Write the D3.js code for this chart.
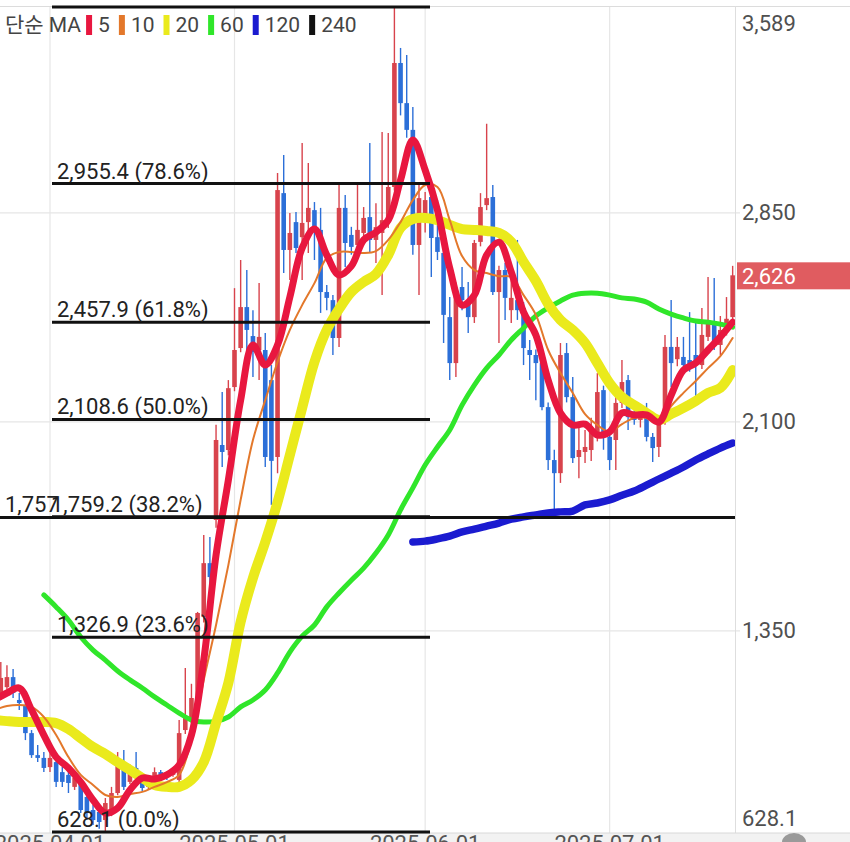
<!DOCTYPE html>
<html><head><meta charset="utf-8">
<script src="https://cdn.jsdelivr.net/npm/d3@7"></script>
<style>
html,body{margin:0;padding:0;background:#fff;}
svg{display:block;font-family:Roboto,"Noto Sans CJK KR",sans-serif;}
</style></head><body>
<svg id="chart" width="850" height="842"></svg>
<script>
// ---------- DATA ----------
const startDate = "2025-03-24";            // first candle (daily candles)
const dateTicks = ["2025.04.01","2025.05.01","2025.06.01","2025.07.01"];

const open = [1120,1148,1184,1102,1084,983,904,894,861,879, 843,833,790,804,754,707,700,671,696,768, 879,808,858,815,790,815,843,836,833,815, 994,1037,1102,1400,1593,1748,2017,1999,2225,2365, 2512,2408,2358,2358,2250,1974,2921,2717,2817,2763, 2817,2860,2789,2566,2537,2401,2868,2771,2735,2778, 2835,2753,2778,2824,2943,3388,3244,3148,2735,2842, 2907,2763,2706,2476,2311,2584,2527,2476,2746,2878, 2907,2566,2645,2501,2537,2509,2358,2340,2311,2153, 1963,1916,2347,2189,1974,1992,1999,2046,2214,2046, 2035,2168,2250,2121,2107,2117,2046,2010,2107,2369, 2325,2333,2322,2340,2304,2405,2458,2376,2430,2476];
const high = [1238,1227,1213,1127,1109,994,940,915,911,897, 861,869,840,822,768,725,715,750,790,915, 922,870,915,833,830,860,851,843,861,1030, 1217,1160,1418,1694,1687,2090,2207,2250,2580,2681, 2645,2501,2598,2419,2304,2993,3058,2850,2853,3101, 3029,2889,2868,2591,2555,2961,2914,2800,2961,2871, 3101,2885,3140,3137,3589,3442,3417,3230,2950,2925, 2925,2896,2720,2548,2600,2656,2602,2753,2921,3170, 2950,2660,2670,2645,2753,2530,2394,2360,2330,2170, 2000,2383,2383,2261,2082,2071,2115,2275,2230,2060, 2230,2322,2268,2140,2150,2168,2060,2120,2412,2537, 2405,2405,2494,2458,2509,2620,2616,2480,2548,2660];
const low = [1102,1130,1109,1066,958,894,879,843,843,790, 790,768,779,696,671,653,640,628.1,685,760, 779,800,800,775,780,805,822,815,826,800, 980,1020,1090,1380,1507,1720,1938,1980,2210,2350, 2347,2261,2250,1938,1802,1916,2634,2609,2706,2609, 2706,2681,2491,2501,2340,2369,2656,2700,2717,2753, 2706,2670,2555,2796,2930,3200,3120,2700,2555,2780, 2620,2681,2383,2250,2261,2501,2419,2455,2730,2860, 2555,2383,2466,2455,2466,2304,2250,2178,2142,1927, 1777,1881,2170,1952,1898,1952,1960,2030,2000,1927, 1927,2150,2071,2090,2080,2030,1956,1974,2090,2225, 2300,2280,2280,2160,2290,2390,2358,2340,2410,2460];
const close = [1181,1184,1127,1091,983,904,894,858,894,808, 808,804,822,707,696,671,664,732,768,879, 790,851,822,786,815,843,833,826,851,983, 1037,1109,1414,1593,1543,2035,1992,2221,2358,2512, 2430,2351,2405,1974,1960,2932,2717,2778,2724,2814, 2868,2789,2566,2545,2401,2868,2742,2728,2789,2832, 2753,2799,2824,2943,3388,3244,3148,2735,2903,2896, 2760,2710,2484,2311,2573,2537,2476,2742,2871,2903, 2566,2645,2545,2545,2501,2365,2340,2311,2153,1963, 1916,2340,2189,1970,1999,2010,2071,2207,2046,1963, 2168,2243,2117,2107,2132,2046,2006,2107,2369,2311, 2369,2304,2304,2304,2412,2458,2376,2430,2470,2626];

// moving averages, read every 2 days starting one day before the first candle
const maFirstDay = -1, maStepDays = 2;
const ma5 = [1102,1127,1145,1066,976,897,858,807,743,696,714,779,822,818,833,868,976,1245,1622,1891,2178,2376,2304,2376,2548,2724,2792,2699,2627,2659,2753,2781,2824,2968,3112,3004,2860,2652,2519,2555,2699,2745,2638,2494,2412,2250,2132,2089,2092,2053,2064,2132,2125,2125,2099,2196,2286,2311,2358,2405,2458];
const ma10 = [1066,1080,1084,1077,1041,976,897,833,797,761,754,764,772,790,807,833,958,1174,1371,1586,1820,2035,2178,2315,2430,2519,2598,2688,2710,2710,2706,2713,2753,2817,2896,2950,2943,2824,2695,2645,2634,2623,2620,2555,2484,2358,2275,2204,2128,2089,2064,2092,2114,2114,2096,2157,2204,2247,2293,2336,2401];
const ma20 = [1030,1026,1023,1023,1023,1019,998,965,933,908,879,851,822,797,790,790,815,879,1019,1163,1382,1540,1669,1812,1981,2150,2315,2430,2505,2566,2602,2631,2699,2796,2828,2832,2824,2807,2792,2789,2785,2778,2746,2674,2606,2523,2466,2430,2383,2311,2239,2189,2160,2132,2107,2128,2150,2175,2204,2222,2286];
const ma60 = [null,null,null,null,1479,1436,1389,1328,1281,1245,1206,1174,1145,1113,1084,1055,1030,1023,1026,1041,1077,1102,1138,1199,1274,1331,1371,1436,1486,1532,1575,1629,1694,1784,1863,1945,2010,2071,2160,2232,2293,2340,2394,2437,2480,2509,2534,2555,2562,2562,2555,2545,2541,2530,2505,2487,2473,2462,2458,2451,2440];
const ma120 = [null,null,null,null,null,null,null,null,null,null,null,null,null,null,null,null,null,null,null,null,null,null,null,null,null,null,null,null,null,null,null,null,null,null,1669,1672,1680,1690,1705,1715,1726,1737,1751,1759,1766,1773,1777,1780,1802,1809,1820,1837,1852,1873,1895,1916,1938,1963,1985,2006,2024];

const maPeriods = ["5","10","20","60","120","240"];
const maColors  = ["#e8173f","#e3782b","#eaea1c","#30e62a","#1b1bd0","#111111"];

// Fibonacci retracement
const fibPercents = [100, 78.6, 61.8, 50.0, 38.2, 23.6, 0.0];
const fibValues   = [3589, 2955.4, 2457.9, 2108.6, 1759.2, 1326.9, 628.1];
const userLineValue = 1757;
const userLineLabel = "1,757";

const axisValues = [3589, 2850, 2100, 1350, 628.1];
const axisLabels = ["3,589","2,850","2,100","1,350","628.1"];
const lastPrice = 2626, lastPriceLabel = "2,626";

// ---------- CHART ----------
const W = 850, H = 842, plotR = 735, yTop = 7, yBot = 832;
const svg = d3.select("#chart");
const parseDay = d3.utcParse("%Y-%m-%d");
const parseTick = d3.utcParse("%Y.%m.%d");
const d0 = parseDay(startDate);
const days = close.map((_, i) => d3.utcDay.offset(d0, i));
const maDays = ma5.map((_, k) => d3.utcDay.offset(d0, maFirstDay + k * maStepDays));

const x = d3.scaleUtc().domain([days[0], days[days.length - 1]]).range([0.8, 732.65]);
const y = d3.scaleLinear().domain([628.1, 3589]).range([yBot, yTop]);

svg.append("rect").attr("width", W).attr("height", H).attr("fill", "#fff");

svg.append("defs").append("clipPath").attr("id", "plotclip")
  .append("rect").attr("x", 0).attr("y", 0).attr("width", plotR).attr("height", yBot + 1);

// grid
const grid = svg.append("g");
grid.selectAll("line.hg").data(axisValues.slice(1, 4)).join("line")
  .attr("x1", 0).attr("x2", plotR + 5).attr("y1", d => y(d)).attr("y2", d => y(d))
  .attr("stroke", "#e6e6e6").attr("stroke-width", 1.2);
grid.selectAll("line.vg").data(dateTicks).join("line")
  .attr("x1", d => x(parseTick(d))).attr("x2", d => x(parseTick(d)))
  .attr("y1", yTop).attr("y2", H)
  .attr("stroke", "#e6e6e6").attr("stroke-width", 1.2);
svg.append("line").attr("x1", 0).attr("x2", W).attr("y1", 6.5).attr("y2", 6.5)
  .attr("stroke", "#dcdcdc").attr("stroke-width", 1);
svg.append("line").attr("x1", plotR + 0.5).attr("x2", plotR + 0.5).attr("y1", 6).attr("y2", yBot + 1)
  .attr("stroke", "#dedede").attr("stroke-width", 1);

// bottom date band
svg.append("rect").attr("x", 0).attr("y", yBot + 1).attr("width", W).attr("height", H - yBot)
  .attr("fill", "#f2f2f2");
svg.append("line").attr("x1", 0).attr("x2", W).attr("y1", yBot + 1).attr("y2", yBot + 1)
  .attr("stroke", "#d8d8d8");
svg.append("g").selectAll("text").data(dateTicks).join("text")
  .attr("x", d => x(parseTick(d))).attr("y", 851).attr("text-anchor", "middle")
  .attr("font-size", 22).attr("fill", "#555").text(d => d);
svg.append("path").attr("d", "M782,842 A12,9 0 0 1 806,842 Z").attr("fill", "#9a9a9a");

const plot = svg.append("g").attr("clip-path", "url(#plotclip)");

// candles
const up = "#d8434c", down = "#2c6fd8";
const cg = plot.append("g");
const idx = d3.range(close.length);
cg.selectAll("line").data(idx).join("line")
  .attr("x1", i => x(days[i])).attr("x2", i => x(days[i]))
  .attr("y1", i => y(high[i])).attr("y2", i => y(low[i]))
  .attr("stroke", i => close[i] >= open[i] ? up : down).attr("stroke-width", 1.4);
cg.selectAll("rect").data(idx).join("rect")
  .attr("x", i => x(days[i]) - 2.3).attr("width", 4.6)
  .attr("y", i => y(Math.max(open[i], close[i])))
  .attr("height", i => Math.max(1.5, Math.abs(y(open[i]) - y(close[i]))))
  .attr("fill", i => close[i] >= open[i] ? up : down);

// moving averages
const maLine = d3.line()
  .defined(d => d.v != null)
  .x(d => x(d.t)).y(d => y(d.v))
  .curve(d3.curveCatmullRom.alpha(0.5));
const maSeries = [
  {vals: ma120, color: maColors[4], w: 7.5},
  {vals: ma60,  color: maColors[3], w: 5},
  {vals: ma20,  color: maColors[2], w: 10},
  {vals: ma10,  color: maColors[1], w: 2},
  {vals: ma5,   color: maColors[0], w: 7}
];
maSeries.forEach(s => {
  plot.append("path")
    .datum(s.vals.map((v, k) => ({t: maDays[k], v})))
    .attr("d", maLine).attr("fill", "none")
    .attr("stroke", s.color).attr("stroke-width", s.w)
    .attr("stroke-linejoin", "round").attr("stroke-linecap", "round");
});

// Fibonacci lines & labels
const fg = svg.append("g");
fg.append("line").attr("x1", 0).attr("x2", plotR)
  .attr("y1", y(userLineValue)).attr("y2", y(userLineValue))
  .attr("stroke", "#111").attr("stroke-width", 3);
fg.selectAll("line.f").data(fibValues).join("line")
  .attr("x1", 52).attr("x2", 430).attr("y1", d => y(d)).attr("y2", d => y(d))
  .attr("stroke", "#111").attr("stroke-width", 3);
const fmt = d3.format(",.1f");
fg.append("text").attr("x", 5).attr("y", y(userLineValue) - 5)
  .attr("font-size", 22).attr("fill", "#222").text(userLineLabel);
fg.selectAll("text.f").data(fibValues.map((v, i) => ({v, p: fibPercents[i]})).filter(d => d.p < 100))
  .join("text")
  .attr("x", d => d.p === 38.2 ? 51 : 57)
  .attr("y", d => y(d.v) - 5)
  .attr("font-size", 22).attr("fill", "#222")
  .text(d => `${fmt(d.v)} (${d.p.toFixed(1)}%)`);

// right axis labels
const offs = [23.5, 7.5, 7.5, 7.5, -6.5];
svg.append("g").selectAll("text").data(axisValues).join("text")
  .attr("x", 742).attr("y", (d, i) => y(d) + offs[i])
  .attr("font-size", 22).attr("fill", "#505050").text((d, i) => axisLabels[i]);

// last price tag
svg.append("rect").attr("x", 737).attr("y", y(lastPrice) - 13).attr("width", W - 737).attr("height", 27)
  .attr("fill", "#e05c60");
svg.append("text").attr("x", 742).attr("y", y(lastPrice) + 8.5)
  .attr("font-size", 22).attr("fill", "#fff").text(lastPriceLabel);

// legend
const lg = svg.append("g");
let lx = 5;
const t0 = lg.append("text").attr("x", lx).attr("y", 32).attr("font-size", 21).attr("fill", "#444").text("단순 MA");
lx += t0.node().getComputedTextLength() + 5;
maPeriods.forEach((p, i) => {
  lg.append("rect").attr("x", lx).attr("y", 15).attr("width", 6).attr("height", 20).attr("fill", maColors[i]);
  lx += 12;
  const t = lg.append("text").attr("x", lx).attr("y", 32).attr("font-size", 21).attr("fill", "#444").text(p);
  lx += t.node().getComputedTextLength() + 9;
});
</script>
</body></html>
